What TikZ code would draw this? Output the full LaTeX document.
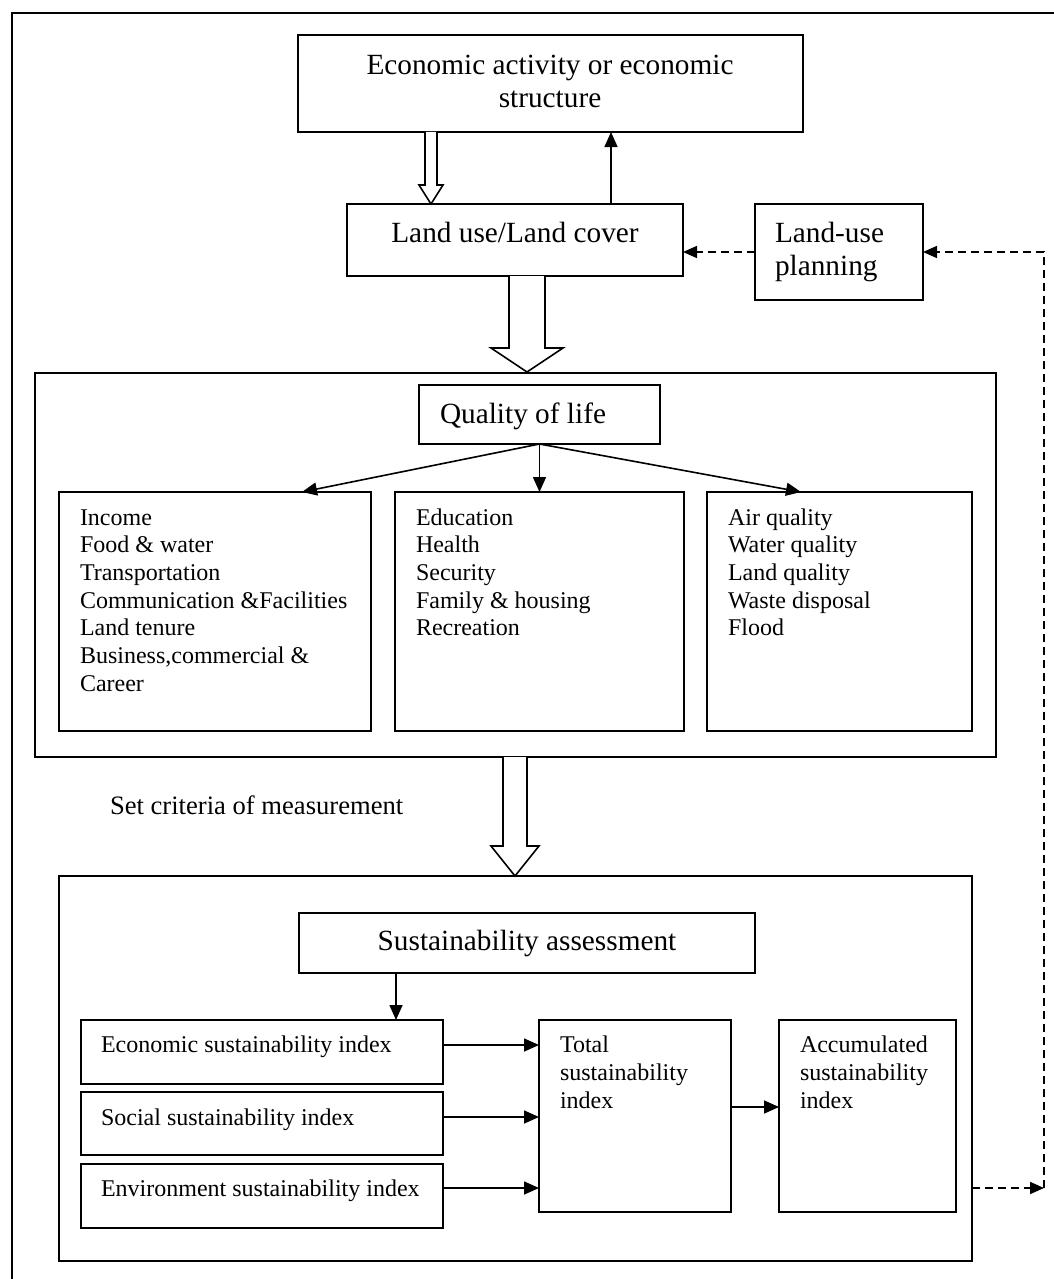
\documentclass[tikz,border=0pt]{standalone}
\usepackage{fontspec}
\setmainfont{Liberation Serif}
\usetikzlibrary{fit,arrows.meta}
\newcommand\bigfnt{\fontsize{14.65pt}{17pt}\selectfont}
\newcommand\smfnt{\fontsize{12pt}{13.85pt}\selectfont}
\newcommand\midfnt{\fontsize{13.3pt}{15pt}\selectfont}
\begin{document}
\begin{tikzpicture}[x=0.5pt,y=-0.5pt,
 box/.style={draw, line width=0.8pt, inner sep=0pt, outer sep=0pt},
 txt/.style={inner sep=0pt, outer sep=0pt},
 bigtxt/.style={txt, font=\bigfnt},
 smtxt/.style={txt, font=\smfnt},
 arr/.style={line width=0.8pt, -{Triangle[length=7.5pt,width=6.5pt]}},
 darr/.style={line width=0.8pt, dash pattern=on 4pt off 2.5pt, -{Triangle[length=7pt,width=6pt]}},
 block/.style={draw, line width=0.8pt, fill=white, line join=miter}]
\useasboundingbox (0,0) rectangle (1054,1279);
\fill[white] (0,0) rectangle (1054,1279);
% outer frame (clipped on right and bottom)
\draw[line width=1pt] (12,1300) -- (12,13) -- (1080,13);

% top boxes
\node[box, fit={(298,35)(803,132)}] (econ) {};
\node[bigtxt, anchor=base] (econt1) at (550,75) {Economic activity or economic};
\node[bigtxt, anchor=base] (econt2) at (550,108) {structure};

\node[box, fit={(347,204)(683,276)}] (land) {};
\node[bigtxt, anchor=base] (landt) at (515,242) {Land use/Land cover};

\node[box, fit={(755,204)(923,300)}] (plan) {};
\node[bigtxt, anchor=base west] (plant1) at (775,242) {Land-use};
\node[bigtxt, anchor=base west] (plant2) at (775,275) {planning};

% quality of life
\node[box, fit={(35,373)(996,757)}] (qbig) {};
\node[box, fit={(419,385)(660,444)}] (qual) {};
\node[bigtxt, anchor=base west] (qualt) at (440,423) {Quality of life};

\node[box, fit={(59,492)(371,731)}] (qleft) {};
\node[box, fit={(395,492)(684,731)}] (qmid) {};
\node[box, fit={(707,492)(972,731)}] (qright) {};

\foreach \t [count=\i] in {Income, Food \& water, Transportation, Communication \&Facilities, Land tenure, {Business,commercial \&}, Career}
  \node[smtxt, anchor=base west] (la\i) at (80,{525+27.7*(\i-1)}) {\t};
\foreach \t [count=\i] in {Education, Health, Security, Family \& housing, Recreation}
  \node[smtxt, anchor=base west] (lb\i) at (416,{525+27.7*(\i-1)}) {\t};
\foreach \t [count=\i] in {Air quality, Water quality, Land quality, Waste disposal, Flood}
  \node[smtxt, anchor=base west] (lc\i) at (728,{525+27.7*(\i-1)}) {\t};

\node[txt, font=\midfnt, anchor=base west] (crit) at (110,814) {Set criteria of measurement};

% sustainability
\node[box, fit={(59,876)(972,1261)}] (sbig) {};
\node[box, fit={(299,913)(755,973)}] (sust) {};
\node[bigtxt, anchor=base] (sustt) at (527,950) {Sustainability assessment};

\node[box, fit={(81,1020)(443,1084)}] (eidx) {};
\node[box, fit={(81,1092)(443,1155)}] (sidx) {};
\node[box, fit={(81,1164)(443,1228)}] (vidx) {};
\node[smtxt, anchor=base west] (eidxt) at (101,1052) {Economic sustainability index};
\node[smtxt, anchor=base west] (sidxt) at (101,1125) {Social sustainability index};
\node[smtxt, anchor=base west] (vidxt) at (101,1196) {Environment sustainability index};

\node[box, fit={(539,1020)(731,1212)}] (total) {};
\node[box, fit={(779,1020)(956,1212)}] (accum) {};
\foreach \t [count=\i] in {Total, sustainability, index}
  \node[smtxt, anchor=base west] (tt\i) at (560,{1052+28*(\i-1)}) {\t};
\foreach \t [count=\i] in {Accumulated, sustainability, index}
  \node[smtxt, anchor=base west] (at\i) at (800,{1052+28*(\i-1)}) {\t};

% helper coordinates
\coordinate (xu) at (611,0);
\coordinate (xl) at (302,0);
\coordinate (xr) at (801,0);
\coordinate (xs) at (396,0);
\coordinate (ye) at (0,1045);
\coordinate (ys) at (0,1117);
\coordinate (yv) at (0,1188);
\coordinate (yt) at (0,1107);
\coordinate (yp) at (0,252);
\coordinate (corner) at (1044,1188);

% block arrows
\draw[block] (425,132) -- (425,185) -- (419,185) -- (431,204) -- (443,185) -- (437,185) -- (437,132);
\draw[block] (509,276) -- (509,348) -- (491,348) -- (527,372) -- (563,348) -- (545,348) -- (545,276);
\draw[block] (503,757) -- (503,846) -- (491,846) -- (515,876) -- (539,846) -- (527,846) -- (527,757);

% thin arrows
\draw[arr] (land.north -| xu) -- (econ.south -| xu);
\draw[arr] (qual.south) -- (qleft.north -| xl);
\draw[arr] (qual.south) -- (qmid.north -| qual.south);
\draw[arr] (qual.south) -- (qright.north -| xr);
\draw[arr] (sust.south -| xs) -- (eidx.north -| xs);
\draw[arr] (eidx.east |- ye) -- (total.west |- ye);
\draw[arr] (sidx.east |- ys) -- (total.west |- ys);
\draw[arr] (vidx.east |- yv) -- (total.west |- yv);
\draw[arr] (total.east |- yt) -- (accum.west |- yt);

% dashed feedback
\draw[darr] (plan.west |- yp) -- (land.east |- yp);
\draw[darr] (sbig.east |- corner) -- (corner);
\draw[darr] (corner) |- (plan.east |- yp);
\end{tikzpicture}
\end{document}
